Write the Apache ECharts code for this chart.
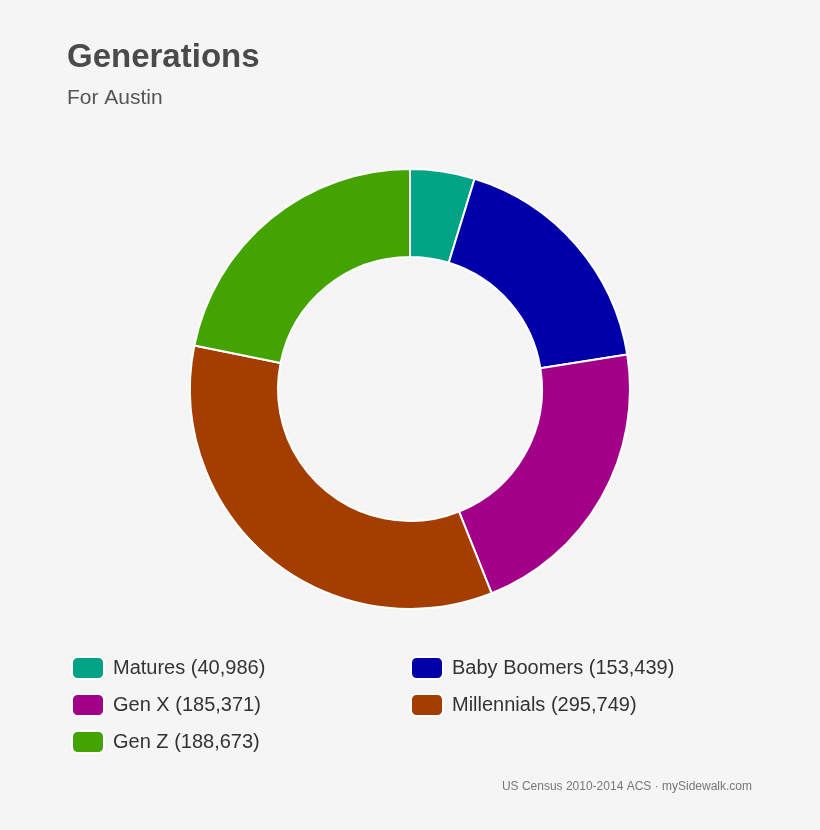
<!DOCTYPE html>
<html lang="en">
<head>
    <meta charset="utf-8" />
    <title>Generations</title>
    <style>
        html, body { margin: 0; padding: 0; background: #f5f5f5; }
        #main { width: 820px; height: 830px; }
    </style>
</head>
<body>
<div id="main"></div>
<script src="https://cdn.jsdelivr.net/npm/echarts@6/dist/echarts.min.js"></script>
<script type="text/javascript">
    // data
    var names = ['Matures', 'Baby Boomers', 'Gen X', 'Millennials', 'Gen Z'];
    var values = [40986, 153439, 185371, 295749, 188673];
    var colors = ['#00a383', '#0000a8', '#a3008a', '#a33d00', '#43a300'];

    // legend positions (two columns)
    var legendPos = [[66, 651], [405, 651], [66, 688], [405, 688], [66, 725]];

    var pieData = [];
    for (var i = 0; i < names.length; i++) {
        pieData.push({ name: names[i], value: values[i], itemStyle: { color: colors[i] } });
    }

    var legends = [];
    for (var i = 0; i < names.length; i++) {
        legends.push({
            data: [names[i]],
            left: legendPos[i][0],
            top: legendPos[i][1],
            itemWidth: 32,
            itemHeight: 22,
            itemGap: 0,
            icon: 'roundRect',
            selectedMode: false,
            textStyle: { fontSize: 20, color: '#333', fontFamily: 'Helvetica, Arial, sans-serif', padding: [0, 0, 0, 4] },
            formatter: function (n) {
                return n + ' (' + values[names.indexOf(n)].toLocaleString('en-US') + ')';
            }
        });
    }

    var myChart = echarts.init(document.getElementById('main'));
    myChart.setOption({
        backgroundColor: '#f5f5f5',
        animation: false,
        title: [{
            text: 'Generations',
            subtext: 'For Austin',
            left: 62,
            top: 36,
            itemGap: 14,
            textStyle: { fontSize: 33, fontWeight: 'bold', color: '#4a4a4a', fontFamily: 'Helvetica, Arial, sans-serif' },
            subtextStyle: { fontSize: 21, color: '#555', fontFamily: 'Helvetica, Arial, sans-serif' }
        }, {
            text: 'US Census 2010-2014 ACS · mySidewalk.com',
            right: 63,
            top: 776,
            textStyle: { fontSize: 12, fontWeight: 'normal', color: '#777', fontFamily: 'Helvetica, Arial, sans-serif' }
        }],
        legend: legends,
        series: [{
            type: 'pie',
            center: [410, 389],
            radius: [132, 220],
            startAngle: 90,
            clockwise: true,
            label: { show: false },
            labelLine: { show: false },
            itemStyle: { borderColor: '#ffffff', borderWidth: 2 },
            data: pieData
        }]
    });
</script>
</body>
</html>
